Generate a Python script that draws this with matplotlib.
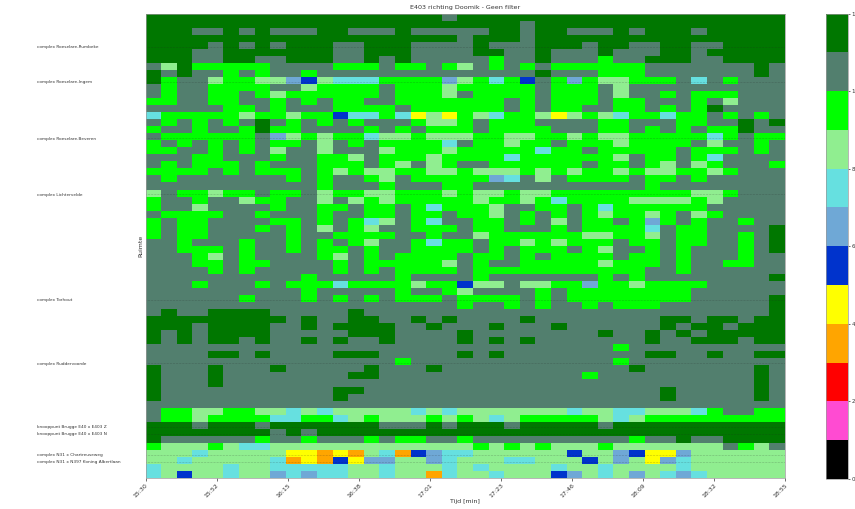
import numpy as np
import matplotlib
matplotlib.use("Agg")
import matplotlib.pyplot as plt
from matplotlib.colors import ListedColormap

# one letter per cell, column 0-20 and column 21-40, top row first
cells_left = [
    "DDDDDDDDDDDDDDDDDDDgD", "DDDDDDDDDDDDDDDDDDDDD", "DDDggDgDgggDDgggDgggg",
    "DDDDDDDDDDDDDDDDDDDDg", "DDDDgDgDgDDDggDDDgggg", "DDDggDDDDDDDggDDDgggg",
    "DDDggDDggDDDggDgDgggg", "glDLLLLLggggLLLgLLgLl", "DgDggLgLggLgggggggggg",
    "DLgglLLllsBlcccLLLLsl", "gLggLLLLgglLLLLgLLLlL", "gLggLLgLlLLLLLLgLLLlg",
    "LLggLLggLgLgLLggLLLLL", "gggggLLgLgggLLLLgLLLL", "cLLLLLlLLlLLBccLcylyL",
    "gLgLgLgDgLgLgLgggLllL", "LggLggLDLLggggLgLgLLL", "gLLLLLLgslLlLLcllLlll",
    "LgLgLgLgLLglgLgLLLLcg", "LLggLgLglgglggglLLLlL", "gggLLgggLggLLlgLLLlLL",
    "gLgLLLgLgggLLLgLlglLg", "LLLLgLgLLLgLlLllLLllL", "gLgggggggLgLggLlgLLLL",
    "gggggggggggLgggLgggLL", "lgLLlLLgLLglLLllLLLlL", "LggLgglLLgglglLlLLLLL",
    "LgglggggLggLLgLLgLcLL", "gLLLLggLgggLggLLgLLgL", "LgLLggggLLgLgLclgLcgg",
    "LgLLgggLgLglgLlggLLLg", "LgLLgggggLggLLLLggLgg", "ggLgggLggLgLgLlggLcLL",
    "ggLLLgLggLgLLgLggLLLL", "gggLlgLggggLlgLgLLLLg", "gggLLgLLggggLgLLLLLlg",
    "ggggLgLgggggLgLgLLLLg", "ggggggggggLgggggLgggg", "gggLgggLgLLLcLLLLlLLB",
    "ggggggggggLgggggLggLl", "ggggggLgggLgLgLgLLLgL", "ggggggggggggggggggggL",
    "gDggDDDDgggggDggggggg", "DDDDDDDDDgDggDDggDgDg", "DDDgDDDDggDgDDDDggDgg",
    "DgDgDDDDgggggDDDggggD", "DgDgDDgDggDgDggDggggD", "ggggggggggggggggggggg",
    "ggggDDgDggggDDDgggggD", "ggggggggggggggggLgggg", "DgggDgggDgggggDgggDgg",
    "DgggDggggggggDDgggggg", "DgggDgggggggggggggggg", "DgggggggggggDDggggggg",
    "DgggggggggggDgggggggg", "ggggggggggggggggggggg", "gLLllLLllclclllllclcl",
    "gLLlLLLLccLLclLlllLlL", "DDDgDDDgDDDDDDDgggDgD", "DDDDDDDDgDgDDDDDDDDDD",
    "DggggggLggLgggLgLLggL", "LlllLlcclllllllllllll", "lllclllllyyoyolcoBscc",
    "llclllllcoyoByssllscl", "cllllcllcccccllclllcl", "clBllcllscsccllcllocl",
]
cells_right = [
    "DDDDDDDDDDDDDDDDDDDD", "DDDgDDDDDDDDDDDDDDDD", "gDDgDDgggDgDDDgDDDDD",
    "DDDgDDDDDDDDDDDDDDDD", "DgggDDDgDDggDDggDDDD", "DDggDgggDgggDDgDDDDD",
    "gLggDgggLggDDDggDDDD", "gLgLgLLLLLLgggggggDg", "ggggDgggLLLgggggggDg",
    "LcLBgLsLllLLLgcgLggg", "LLLLgLLLglgggggggggg", "LLLLgLLLglggLgLLLggg",
    "LLgLgLLLgLLgggLglggg", "LLgLgLLggLLgLgLDgggg", "lcLLlylLlcLLcLLgLgLg",
    "gLLLggggLLgggLLggDgD", "gLLLLgggLLgLgLgLLDgg", "LLllLLlLllLLLLLcLgLL",
    "LLlLLgLLLlLLLLglggLg", "LLLLcLLgLLLLLgLLLgLg", "LLcLLLLLLlgLLgLcgggg",
    "gLLLLLLgLLgLlglLgggL", "lllLlLlLLlLllLLlLggg", "LscglgLLLLgLLgLggggg",
    "gggggggggggLgggggggg", "llLllLLLLLLLLLllLggg", "lLLlLcLLLLllllLlgggg",
    "LlggLLgLcLLLLLLggggg", "LlgLgLgLlLLlLglLgggg", "LLgLglgLLgLsLgLggLgg",
    "LLgggLgLLLLcgLLggggD", "lLLLLLLllLLlgLLggLgD", "gLLlLlLLLgLLgLLggLgD",
    "gLgLLLgLlggLgLgggLgD", "LLgLgLLLLgLLgLgggLgg", "LggLLLLLlLLLgLggLLgg",
    "LLLLLLLLLLLggLgggggg", "LgggggggLgLggggggggD", "llgllLLsLLlLLLLggggg",
    "ggggLgLLLLLLLLgggggg", "LLLgLgLLLLLLLLgggggD", "ggLgLggLgLLLgggggggD",
    "gggggggggggggggggggD", "gggDggggggggDDgDDgDD", "gDgggDggggggDgDDgDDD",
    "ggggggggDggDgDgDDDDD", "gDgDgggggggDggDDDgDD", "gggggggggLgggggggggg",
    "gDgggggggggDDggDggDD", "gggggggggLgggggggggg", "ggggggggggDgggggggDg",
    "gggggggLggggggggggDg", "ggggggggggggggggggDg", "ggggggggggggDgggggDg",
    "ggggggggggggDgggggDg", "gggggggggggggggggggg", "llllllcllcclllcLggLL",
    "lclLLLLLlclLLLLLLLLL", "DDgDDDDDgDDDDDDDDDDD", "DDDDDDDDDDDDDDDDDDDD",
    "ggggggggggLggDggDDDD", "LlLlLlllLlllllllgLlg", "llllllBllsByysllllll",
    "llcclllBlslyscllllll", "cllllcllcllllcllllll", "lclllBslclslcsclllll",
]
codes = {"o": 3, "y": 4, "B": 5, "s": 6, "c": 7, "l": 8, "L": 9, "g": 10, "D": 11}

band_colors = ["#000000", "#ff4bd2", "#ff0000", "#ffa500", "#ffff00", "#0033cc",
               "#6fa8d6", "#66e0e0", "#90ee90", "#00ff00", "#527f6e", "#007700"]

# row index of every location on the y axis
locations = ["complex Roeselare-Rumbeke", "complex Roeselare-Ingem", "complex Roeselare-Beveren",
             "complex Lichtervelde", "complex Torhout", "complex Ruddervoorde",
             "knooppunt Brugge E40 x E403 Z", "knooppunt Brugge E40 x E403 N",
             "complex N31 x Chartreuseweg", "complex N31 x N397 Koning Albertlaan"]
location_rows = [4.7, 9.7, 17.7, 25.7, 40.7, 49.7, 58.7, 59.7, 62.7, 63.7]
time_labels = ["15:30", "15:52", "16:15", "16:38", "17:01", "17:23", "17:46", "18:09", "18:32", "18:55"]

grid = np.array([[codes[c] for c in a + b] for a, b in zip(cells_left, cells_right)])
cmap = ListedColormap(band_colors)
text_color = "#333333"

fig = plt.figure(figsize=(8.55, 5.09), dpi=100)
ax = fig.add_axes([145.5 / 855, 1 - 478 / 509, 639.5 / 855, 464.4 / 509])
mesh = ax.pcolormesh(np.arange(grid.shape[1] + 1), np.arange(grid.shape[0] + 1), grid,
                     cmap=cmap, vmin=0, vmax=12)
ax.set_ylim(grid.shape[0], 0)
ax.set_title("E403 richting Doomik - Geen filter", fontsize=4.6, pad=3, color=text_color)
ax.set_xlabel("Tijd [min]", fontsize=4.5, labelpad=0, color=text_color)
ax.set_ylabel("Ruimte", fontsize=4.5, color=text_color)
ax.yaxis.set_label_coords(-0.004, 0.5)

ax.set_xticks(np.linspace(0, grid.shape[1], len(time_labels)))
ax.set_xticklabels(time_labels, rotation=45, ha="right", rotation_mode="anchor", fontsize=4.5,
                   color=text_color)
ax.set_yticks(location_rows)
ax.set_yticklabels(locations, fontsize=3.1, ha="left", color=text_color)
ax.tick_params(axis="x", length=2, width=0.4, pad=1.5)
ax.tick_params(axis="y", length=0, pad=78)
ax.grid(axis="y", color="#222222", linewidth=0.4, alpha=0.5, linestyle=":")
for spine in ax.spines.values():
    spine.set_linewidth(0.5)
    spine.set_color("#999999")

cax = fig.add_axes([825.5 / 855, 1 - 479 / 509, 22.5 / 855, 465.5 / 509])
cbar = fig.colorbar(mesh, cax=cax, ticks=np.arange(0, 13, 2))
cbar.ax.tick_params(labelsize=4, length=1.5, width=0.4, pad=1, labelcolor=text_color)
cbar.outline.set_linewidth(0.5)
cbar.outline.set_edgecolor("#999999")

fig.savefig("out.png", dpi=100)
